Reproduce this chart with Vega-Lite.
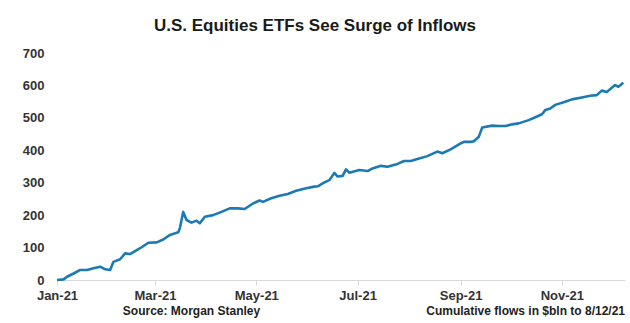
{
  "$schema": "https://vega.github.io/schema/vega-lite/v6.json",
  "width": 568,
  "height": 227,
  "autosize": "none",
  "padding": {"left": 57, "top": 53, "right": 5, "bottom": 43},
  "background": "white",
  "title": {
    "text": "U.S. Equities ETFs See Surge of Inflows",
    "font": "Liberation Sans",
    "fontSize": 17,
    "fontWeight": "bold",
    "color": "#1a1a1a",
    "anchor": "middle",
    "dx": -26,
    "offset": 12
  },
  "config": {
    "view": {"stroke": null},
    "font": "Liberation Sans"
  },
  "datasets": {
    "flows": [
      {"date": "2021-01-01", "flows": 0},
      {"date": "2021-01-05", "flows": 2},
      {"date": "2021-01-07", "flows": 10},
      {"date": "2021-01-11", "flows": 20},
      {"date": "2021-01-15", "flows": 31},
      {"date": "2021-01-19", "flows": 31},
      {"date": "2021-01-23", "flows": 36},
      {"date": "2021-01-27", "flows": 41},
      {"date": "2021-01-30", "flows": 33},
      {"date": "2021-02-02", "flows": 31},
      {"date": "2021-02-04", "flows": 56},
      {"date": "2021-02-08", "flows": 64},
      {"date": "2021-02-11", "flows": 82},
      {"date": "2021-02-14", "flows": 80},
      {"date": "2021-02-18", "flows": 92},
      {"date": "2021-02-21", "flows": 101},
      {"date": "2021-02-25", "flows": 115},
      {"date": "2021-03-02", "flows": 116},
      {"date": "2021-03-06", "flows": 125},
      {"date": "2021-03-10", "flows": 139},
      {"date": "2021-03-15", "flows": 147},
      {"date": "2021-03-16", "flows": 160},
      {"date": "2021-03-18", "flows": 210},
      {"date": "2021-03-20", "flows": 185},
      {"date": "2021-03-23", "flows": 177},
      {"date": "2021-03-26", "flows": 183},
      {"date": "2021-03-28", "flows": 175},
      {"date": "2021-03-31", "flows": 195},
      {"date": "2021-04-05", "flows": 200},
      {"date": "2021-04-10", "flows": 210},
      {"date": "2021-04-15", "flows": 221},
      {"date": "2021-04-20", "flows": 221},
      {"date": "2021-04-24", "flows": 219},
      {"date": "2021-04-29", "flows": 236},
      {"date": "2021-05-03", "flows": 245},
      {"date": "2021-05-05", "flows": 241},
      {"date": "2021-05-10", "flows": 252},
      {"date": "2021-05-15", "flows": 260},
      {"date": "2021-05-20", "flows": 265},
      {"date": "2021-05-25", "flows": 275},
      {"date": "2021-05-31", "flows": 283},
      {"date": "2021-06-05", "flows": 288},
      {"date": "2021-06-07", "flows": 289},
      {"date": "2021-06-11", "flows": 301},
      {"date": "2021-06-14", "flows": 308},
      {"date": "2021-06-17", "flows": 330},
      {"date": "2021-06-19", "flows": 319},
      {"date": "2021-06-22", "flows": 321},
      {"date": "2021-06-24", "flows": 341},
      {"date": "2021-06-26", "flows": 331},
      {"date": "2021-07-02", "flows": 339},
      {"date": "2021-07-07", "flows": 336},
      {"date": "2021-07-10", "flows": 344},
      {"date": "2021-07-15", "flows": 352},
      {"date": "2021-07-19", "flows": 349},
      {"date": "2021-07-25", "flows": 358},
      {"date": "2021-07-29", "flows": 367},
      {"date": "2021-08-02", "flows": 367},
      {"date": "2021-08-06", "flows": 373},
      {"date": "2021-08-12", "flows": 382},
      {"date": "2021-08-18", "flows": 396},
      {"date": "2021-08-21", "flows": 391},
      {"date": "2021-08-26", "flows": 403},
      {"date": "2021-09-01", "flows": 421},
      {"date": "2021-09-03", "flows": 426},
      {"date": "2021-09-07", "flows": 426},
      {"date": "2021-09-09", "flows": 428},
      {"date": "2021-09-12", "flows": 442},
      {"date": "2021-09-14", "flows": 470},
      {"date": "2021-09-20", "flows": 476},
      {"date": "2021-09-24", "flows": 475},
      {"date": "2021-09-28", "flows": 475},
      {"date": "2021-10-02", "flows": 480},
      {"date": "2021-10-06", "flows": 483},
      {"date": "2021-10-12", "flows": 493},
      {"date": "2021-10-16", "flows": 502},
      {"date": "2021-10-20", "flows": 511},
      {"date": "2021-10-22", "flows": 524},
      {"date": "2021-10-25", "flows": 529},
      {"date": "2021-10-28", "flows": 540},
      {"date": "2021-11-03", "flows": 550},
      {"date": "2021-11-07", "flows": 557},
      {"date": "2021-11-13", "flows": 563},
      {"date": "2021-11-18", "flows": 568},
      {"date": "2021-11-22", "flows": 570},
      {"date": "2021-11-25", "flows": 584},
      {"date": "2021-11-28", "flows": 580},
      {"date": "2021-11-30", "flows": 588},
      {"date": "2021-12-03", "flows": 601},
      {"date": "2021-12-05", "flows": 596},
      {"date": "2021-12-08", "flows": 608}
    ],
    "notes": [
      {"note": "Source: Morgan Stanley", "date": "2021-03-23", "flows": -95, "side": "center"},
      {"note": "Cumulative flows in $bln to 8/12/21", "date": "2021-12-09", "flows": -95, "side": "right"}
    ]
  },
  "encoding": {
    "x": {
      "field": "date",
      "type": "temporal",
      "scale": {"type": "utc", "domain": [{"year": 2021, "month": 1, "date": 1, "utc": true}, {"year": 2021, "month": 12, "date": 9, "utc": true}]},
      "axis": {
        "title": null,
        "values": [
          {"year": 2021, "month": 1, "date": 1, "utc": true},
          {"year": 2021, "month": 3, "date": 1, "utc": true},
          {"year": 2021, "month": 5, "date": 1, "utc": true},
          {"year": 2021, "month": 7, "date": 1, "utc": true},
          {"year": 2021, "month": 9, "date": 1, "utc": true},
          {"year": 2021, "month": 11, "date": 1, "utc": true}
        ],
        "format": "%b-%y",
        "grid": false,
        "domainColor": "#d9d9d9",
        "tickColor": "#d9d9d9",
        "tickSize": 5,
        "labelPadding": 4,
        "labelFontSize": 13,
        "labelFontWeight": "bold",
        "labelColor": "#333333",
        "labelFlush": false,
        "labelOverlap": false
      }
    },
    "y": {
      "field": "flows",
      "type": "quantitative",
      "scale": {"domain": [0, 700], "nice": false},
      "axis": {
        "title": null,
        "values": [0, 100, 200, 300, 400, 500, 600, 700],
        "grid": false,
        "domain": false,
        "ticks": false,
        "labelPadding": 13,
        "labelFontSize": 13,
        "labelFontWeight": "bold",
        "labelColor": "#333333",
        "labelOverlap": false
      }
    }
  },
  "layer": [
    {
      "data": {"name": "flows"},
      "mark": {"type": "line", "color": "#1b7ab6", "strokeWidth": 2.6, "strokeJoin": "round"}
    },
    {
      "data": {"name": "notes"},
      "transform": [{"filter": "datum.side == 'center'"}],
      "mark": {"type": "text", "fontSize": 12, "fontWeight": "bold", "color": "#222222", "baseline": "middle", "align": "center"},
      "encoding": {"text": {"field": "note"}}
    },
    {
      "data": {"name": "notes"},
      "transform": [{"filter": "datum.side == 'right'"}],
      "mark": {"type": "text", "fontSize": 12, "fontWeight": "bold", "color": "#222222", "baseline": "middle", "align": "right"},
      "encoding": {"text": {"field": "note"}}
    }
  ]
}
